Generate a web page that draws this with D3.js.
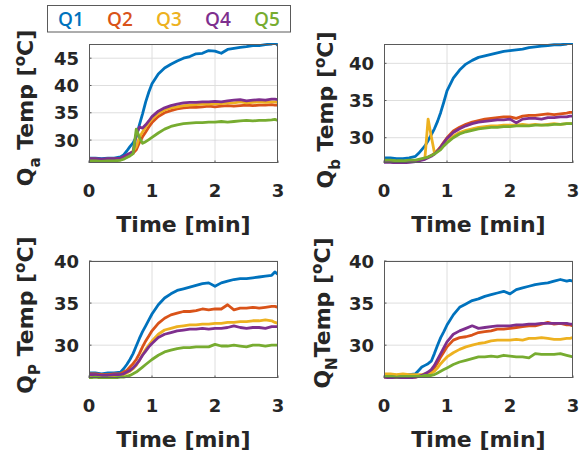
<!DOCTYPE html>
<html><head><meta charset="utf-8">
<script src="https://cdn.jsdelivr.net/npm/d3@7"></script>
<style>
html,body{margin:0;padding:0;background:#fff;}
svg{display:block;}
.tick-label{font-family:"DejaVu Sans",sans-serif;font-weight:bold;font-size:18px;fill:#262626;}
.axis-label{font-family:"DejaVu Sans",sans-serif;font-weight:bold;font-size:22px;fill:#262626;}
.legend-text{font-family:"Open Sans",sans-serif;font-weight:600;font-size:19px;}
</style></head>
<body>
<svg id="chart" width="580" height="459"></svg>
<script>
// ---------------- DATA ----------------
const seriesNames = ["Q1","Q2","Q3","Q4","Q5"];
const seriesColors = ["#0072BD","#D95319","#EDB120","#7E2F8E","#77AC30"];
const time = [0,0.1,0.2,0.3,0.4,0.5,0.55,0.6,0.65,0.7,0.75,0.8,0.85,0.9,0.95,1.0,1.1,1.2,1.3,1.4,1.5,1.6,1.7,1.8,1.9,2.0,2.1,2.2,2.3,2.4,2.5,2.6,2.7,2.8,2.9,2.95,3.0];
const xTicks = [0,1,2,3];

// Panel Qa
const qa_Q1 = [26.7,26.7,26.6,26.7,26.7,26.9,27.3,28.0,28.8,29.5,30.6,32.8,34.8,37.0,38.8,40.3,42.1,43.2,43.9,44.5,45.0,45.3,45.8,45.9,46.4,46.3,45.9,46.6,46.8,47.0,47.1,47.3,47.3,47.5,47.6,47.9,47.3];
const qa_Q2 = [26.5,26.5,26.4,26.5,26.5,26.5,26.7,26.9,27.2,27.6,28.2,29.5,30.6,31.5,32.4,33.2,34.3,35.0,35.4,35.7,35.9,36.0,36.0,36.1,36.2,36.1,36.2,36.3,36.2,36.3,36.4,36.3,36.4,36.4,36.5,36.4,36.4];
const qa_Q3 = [26.5,26.5,26.4,26.5,26.5,26.5,26.8,27.1,27.5,28.0,28.8,30.5,31.5,32.4,33.2,33.9,34.9,35.5,35.9,36.1,36.3,36.4,36.5,36.6,36.6,36.7,36.7,36.8,36.8,37.0,36.8,36.9,37.0,36.9,37.0,37.0,36.9];
const qa_Q4 = [26.6,26.6,26.5,26.6,26.6,26.7,27.0,27.3,27.6,27.9,31.0,32.4,32.2,32.8,33.5,34.3,35.3,35.9,36.3,36.6,36.8,36.9,36.9,37.0,37.0,37.1,37.0,37.2,37.3,37.4,37.2,37.3,37.4,37.3,37.5,37.5,37.4];
const qa_Q5 = [26.2,26.2,26.1,26.2,26.2,26.3,26.5,26.8,27.1,27.5,32.0,30.5,29.4,29.7,30.1,30.5,31.3,32.0,32.5,32.8,33.0,33.1,33.2,33.2,33.3,33.3,33.4,33.3,33.4,33.5,33.6,33.5,33.6,33.6,33.7,33.8,33.6];
const qa_yTicks = [30,35,40,45];

// Panel Qb
const qb_Q1 = [27.3,27.3,27.2,27.2,27.3,27.5,27.9,28.4,28.9,29.6,30.4,31.2,32.2,33.4,34.8,36.3,38.0,39.1,39.9,40.4,40.8,41.0,41.2,41.4,41.6,41.7,41.8,41.9,42.1,42.2,42.3,42.4,42.5,42.5,42.6,42.7,42.6];
const qb_Q2 = [26.9,26.9,26.8,26.8,26.8,26.9,27.0,27.1,27.2,27.4,27.6,27.9,28.3,28.8,29.4,30.0,30.9,31.4,31.8,32.1,32.3,32.5,32.6,32.7,32.8,32.8,32.6,32.9,33.0,33.0,33.1,33.2,33.1,33.2,33.3,33.4,33.4];
const qb_Q3 = [26.9,26.9,26.8,26.8,26.8,26.9,27.0,27.1,27.3,32.5,30.2,28.0,28.3,28.6,29.0,29.5,30.2,30.7,31.0,31.2,31.4,31.5,31.6,31.6,31.7,31.7,31.7,31.8,31.7,31.8,31.7,31.8,31.9,31.8,31.9,31.9,31.9];
const qb_Q4 = [26.7,26.7,26.6,26.6,26.7,26.8,26.9,27.0,27.1,27.3,27.5,27.8,28.2,28.7,29.3,29.9,30.7,31.2,31.6,31.9,32.1,32.2,32.3,32.4,32.4,32.5,32.0,32.5,32.6,32.6,32.5,32.7,32.7,32.8,32.8,32.9,32.9];
const qb_Q5 = [27.0,27.0,26.9,26.9,27.0,27.0,27.1,27.2,27.3,27.4,27.6,27.8,28.1,28.4,28.9,29.3,30.0,30.5,30.8,31.0,31.2,31.3,31.4,31.4,31.5,31.5,31.6,31.6,31.6,31.7,31.7,31.7,31.8,31.8,31.9,31.9,31.9];
const qb_yTicks = [30,35,40];

// Panel QP
const qp_Q1 = [26.7,26.7,26.6,26.7,26.7,26.8,27.2,27.7,28.3,29.0,29.9,30.8,31.6,32.3,33.0,33.7,34.8,35.6,36.1,36.5,36.7,36.9,37.1,37.3,37.4,37.0,37.4,37.6,37.8,37.9,37.9,38.0,38.1,38.2,38.3,38.7,38.4];
const qp_Q2 = [26.6,26.6,26.5,26.5,26.6,26.6,26.8,27.0,27.4,27.8,28.3,29.0,29.8,30.5,31.1,31.7,32.6,33.2,33.6,33.8,34.0,34.0,34.1,34.3,34.2,34.3,34.3,34.8,34.2,34.4,34.4,34.5,34.4,34.5,34.6,34.6,34.5];
const qp_Q3 = [26.3,26.3,26.2,26.3,26.3,26.3,26.5,26.7,26.9,27.2,27.6,28.2,28.9,29.5,30.0,30.5,31.3,31.8,32.0,32.2,32.3,32.4,32.4,32.5,32.5,32.6,32.6,32.7,32.7,32.8,32.8,32.9,32.9,33.0,32.9,32.7,32.6];
const qp_Q4 = [26.5,26.5,26.4,26.4,26.5,26.5,26.6,26.8,27.0,27.3,27.7,28.2,28.8,29.3,29.8,30.2,30.9,31.3,31.5,31.7,31.8,31.9,31.9,32.0,31.9,32.0,32.0,32.1,32.3,32.1,32.0,32.1,32.1,32.0,32.2,32.2,32.2];
const qp_Q5 = [26.1,26.2,26.1,26.1,26.1,26.2,26.2,26.3,26.4,26.6,26.8,27.1,27.4,27.7,28.0,28.3,28.8,29.2,29.4,29.6,29.7,29.7,29.8,29.8,29.8,30.1,29.9,29.9,30.0,29.9,29.8,30.0,30.0,29.9,30.0,30.0,30.0];
const qp_yTicks = [30,35,40];

// Panel QN
const qn_Q1 = [26.5,26.5,26.4,26.5,26.5,26.6,27.0,27.4,27.6,27.8,28.1,29.0,30.0,30.9,31.6,32.4,33.6,34.5,34.9,35.3,35.5,35.8,36.0,36.2,36.4,36.1,36.6,36.8,37.0,37.2,37.3,37.4,37.6,37.8,37.6,37.7,37.6];
const qn_Q2 = [26.2,26.2,26.1,26.2,26.2,26.2,26.3,26.4,26.5,26.7,26.9,27.3,27.9,28.6,29.2,29.8,30.6,30.9,31.0,31.2,31.5,31.6,31.7,31.9,31.9,32.0,32.1,32.2,32.3,32.3,32.5,32.7,32.5,32.6,32.4,32.4,32.3];
const qn_Q3 = [26.6,26.6,26.5,26.6,26.5,26.5,26.5,26.5,26.6,26.6,26.7,26.9,27.3,27.8,28.2,28.6,29.1,29.5,29.8,30.0,30.2,30.3,30.5,30.6,30.6,30.6,30.7,30.6,30.8,30.8,30.9,30.8,30.7,30.7,30.8,30.8,30.9];
const qn_Q4 = [26.2,26.1,26.0,26.1,26.1,26.2,26.3,26.4,26.6,26.8,27.1,27.6,28.3,29.0,29.7,30.4,31.3,31.7,32.0,32.3,32.0,32.1,32.2,32.3,32.3,32.3,32.4,32.4,32.5,32.5,32.6,32.6,32.6,32.6,32.6,32.5,32.5];
const qn_Q5 = [26.3,26.3,26.2,26.3,26.3,26.3,26.3,26.3,26.4,26.4,26.4,26.5,26.7,26.9,27.1,27.3,27.7,28.0,28.2,28.4,28.6,28.6,28.7,28.6,28.8,28.7,28.6,28.6,28.5,29.0,28.9,28.9,28.9,29.0,28.8,28.7,28.6];
const qn_yTicks = [30,35,40];

// ---------------- LAYOUT ----------------
const panels = [
  {id:"a", series:[qa_Q1,qa_Q2,qa_Q3,qa_Q4,qa_Q5], yTicks:qa_yTicks, yDomain:[25.8,47.6], sub:"a", space:true,
   x0:89, x1:278, y0:44, y1:163, ylabX:33, ylabY:108},
  {id:"b", series:[qb_Q1,qb_Q2,qb_Q3,qb_Q4,qb_Q5], yTicks:qb_yTicks, yDomain:[26.6,42.6], sub:"b", space:true,
   x0:384, x1:573, y0:44, y1:163, ylabX:333, ylabY:110},
  {id:"p", series:[qp_Q1,qp_Q2,qp_Q3,qp_Q4,qp_Q5], yTicks:qp_yTicks, yDomain:[26.1,40.0], sub:"P", space:true,
   x0:89, x1:278, y0:261, y1:378, ylabX:33, ylabY:315},
  {id:"n", series:[qn_Q1,qn_Q2,qn_Q3,qn_Q4,qn_Q5], yTicks:qn_yTicks, yDomain:[26.1,40.0], sub:"N", space:false,
   x0:384, x1:573, y0:261, y1:378, ylabX:330, ylabY:313}
];

const svg = d3.select("#chart");
const defs = svg.append("defs");

panels.forEach(p => {
  const x = d3.scaleLinear().domain([0,3]).range([p.x0,p.x1]);
  const y = d3.scaleLinear().domain(p.yDomain).range([p.y1,p.y0]);
  const g = svg.append("g");

  g.append("rect").attr("x",p.x0).attr("y",p.y0).attr("width",p.x1-p.x0).attr("height",p.y1-p.y0).attr("fill","#fff");

  // grid
  g.selectAll(".gx").data(xTicks.filter(t=>t>0&&t<3)).enter().append("line")
    .attr("x1",d=>x(d)).attr("x2",d=>x(d)).attr("y1",p.y0).attr("y2",p.y1)
    .attr("stroke","#dedede").attr("stroke-width",1);
  g.selectAll(".gy").data(p.yTicks).enter().append("line")
    .attr("x1",p.x0).attr("x2",p.x1).attr("y1",d=>y(d)).attr("y2",d=>y(d))
    .attr("stroke","#dedede").attr("stroke-width",1);

  defs.append("clipPath").attr("id","clip-"+p.id).append("rect")
    .attr("x",p.x0).attr("y",p.y0-1).attr("width",p.x1-p.x0).attr("height",p.y1-p.y0+2);

  const line = d3.line().x((d,i)=>x(time[i])).y(d=>y(d));
  const lg = g.append("g").attr("clip-path","url(#clip-"+p.id+")");
  p.series.forEach((s,i)=>{
    lg.append("path").attr("d",line(s)).attr("fill","none")
      .attr("stroke",seriesColors[i]).attr("stroke-width",2.8)
      .attr("stroke-linejoin","round").attr("stroke-linecap","round");
  });

  // frame
  g.append("rect").attr("x",p.x0+0.5).attr("y",p.y0+0.5).attr("width",p.x1-p.x0-1).attr("height",p.y1-p.y0-1)
    .attr("fill","none").attr("stroke","#5a5a5a").attr("stroke-width",1);

  g.selectAll(".tx").data(xTicks).enter().append("line")
    .attr("x1",d=>x(d)).attr("x2",d=>x(d)).attr("y1",p.y1).attr("y2",p.y1-2.5)
    .attr("stroke","#5a5a5a");
  g.selectAll(".ty").data(p.yTicks).enter().append("line")
    .attr("x1",p.x0).attr("x2",p.x0+2.5).attr("y1",d=>y(d)).attr("y2",d=>y(d))
    .attr("stroke","#5a5a5a");

  // tick labels
  g.selectAll(".xl").data(xTicks).enter().append("text").attr("class","tick-label")
    .attr("x",d=>x(d)).attr("y",p.y1+34).attr("text-anchor","middle").text(d=>d);
  g.selectAll(".yl").data(p.yTicks).enter().append("text").attr("class","tick-label")
    .attr("x",p.x0-10).attr("y",d=>y(d)+6.5).attr("text-anchor","end").text(d=>d);

  // x label
  g.append("text").attr("class","axis-label").attr("x",(p.x0+p.x1)/2).attr("y",p.y1+69)
    .attr("text-anchor","middle").text("Time [min]");

  // y label
  const yl = g.append("text").attr("class","axis-label")
    .attr("transform","translate("+p.ylabX+","+p.ylabY+") rotate(-90)")
    .attr("text-anchor","middle");
  yl.append("tspan").text("Q");
  yl.append("tspan").attr("dy",7).attr("font-size","15px").text(p.sub);
  yl.append("tspan").attr("dy",-7).text((p.space?" ":"")+"Temp [");
  yl.append("tspan").attr("dy",-8).attr("font-size","15px").text("o");
  yl.append("tspan").attr("dy",8).text("C]");
});

// legend
const leg = svg.append("g");
leg.append("rect").attr("x",47.5).attr("y",5.5).attr("width",243).attr("height",26.5)
  .attr("fill","#fff").attr("stroke","#5a5a5a").attr("stroke-width",1);
leg.selectAll("text").data(seriesNames).enter().append("text").attr("class","legend-text")
  .attr("x",(d,i)=>71+i*49).attr("y",26).attr("text-anchor","middle")
  .attr("fill",(d,i)=>seriesColors[i]).text(d=>d);
</script>
</body></html>
